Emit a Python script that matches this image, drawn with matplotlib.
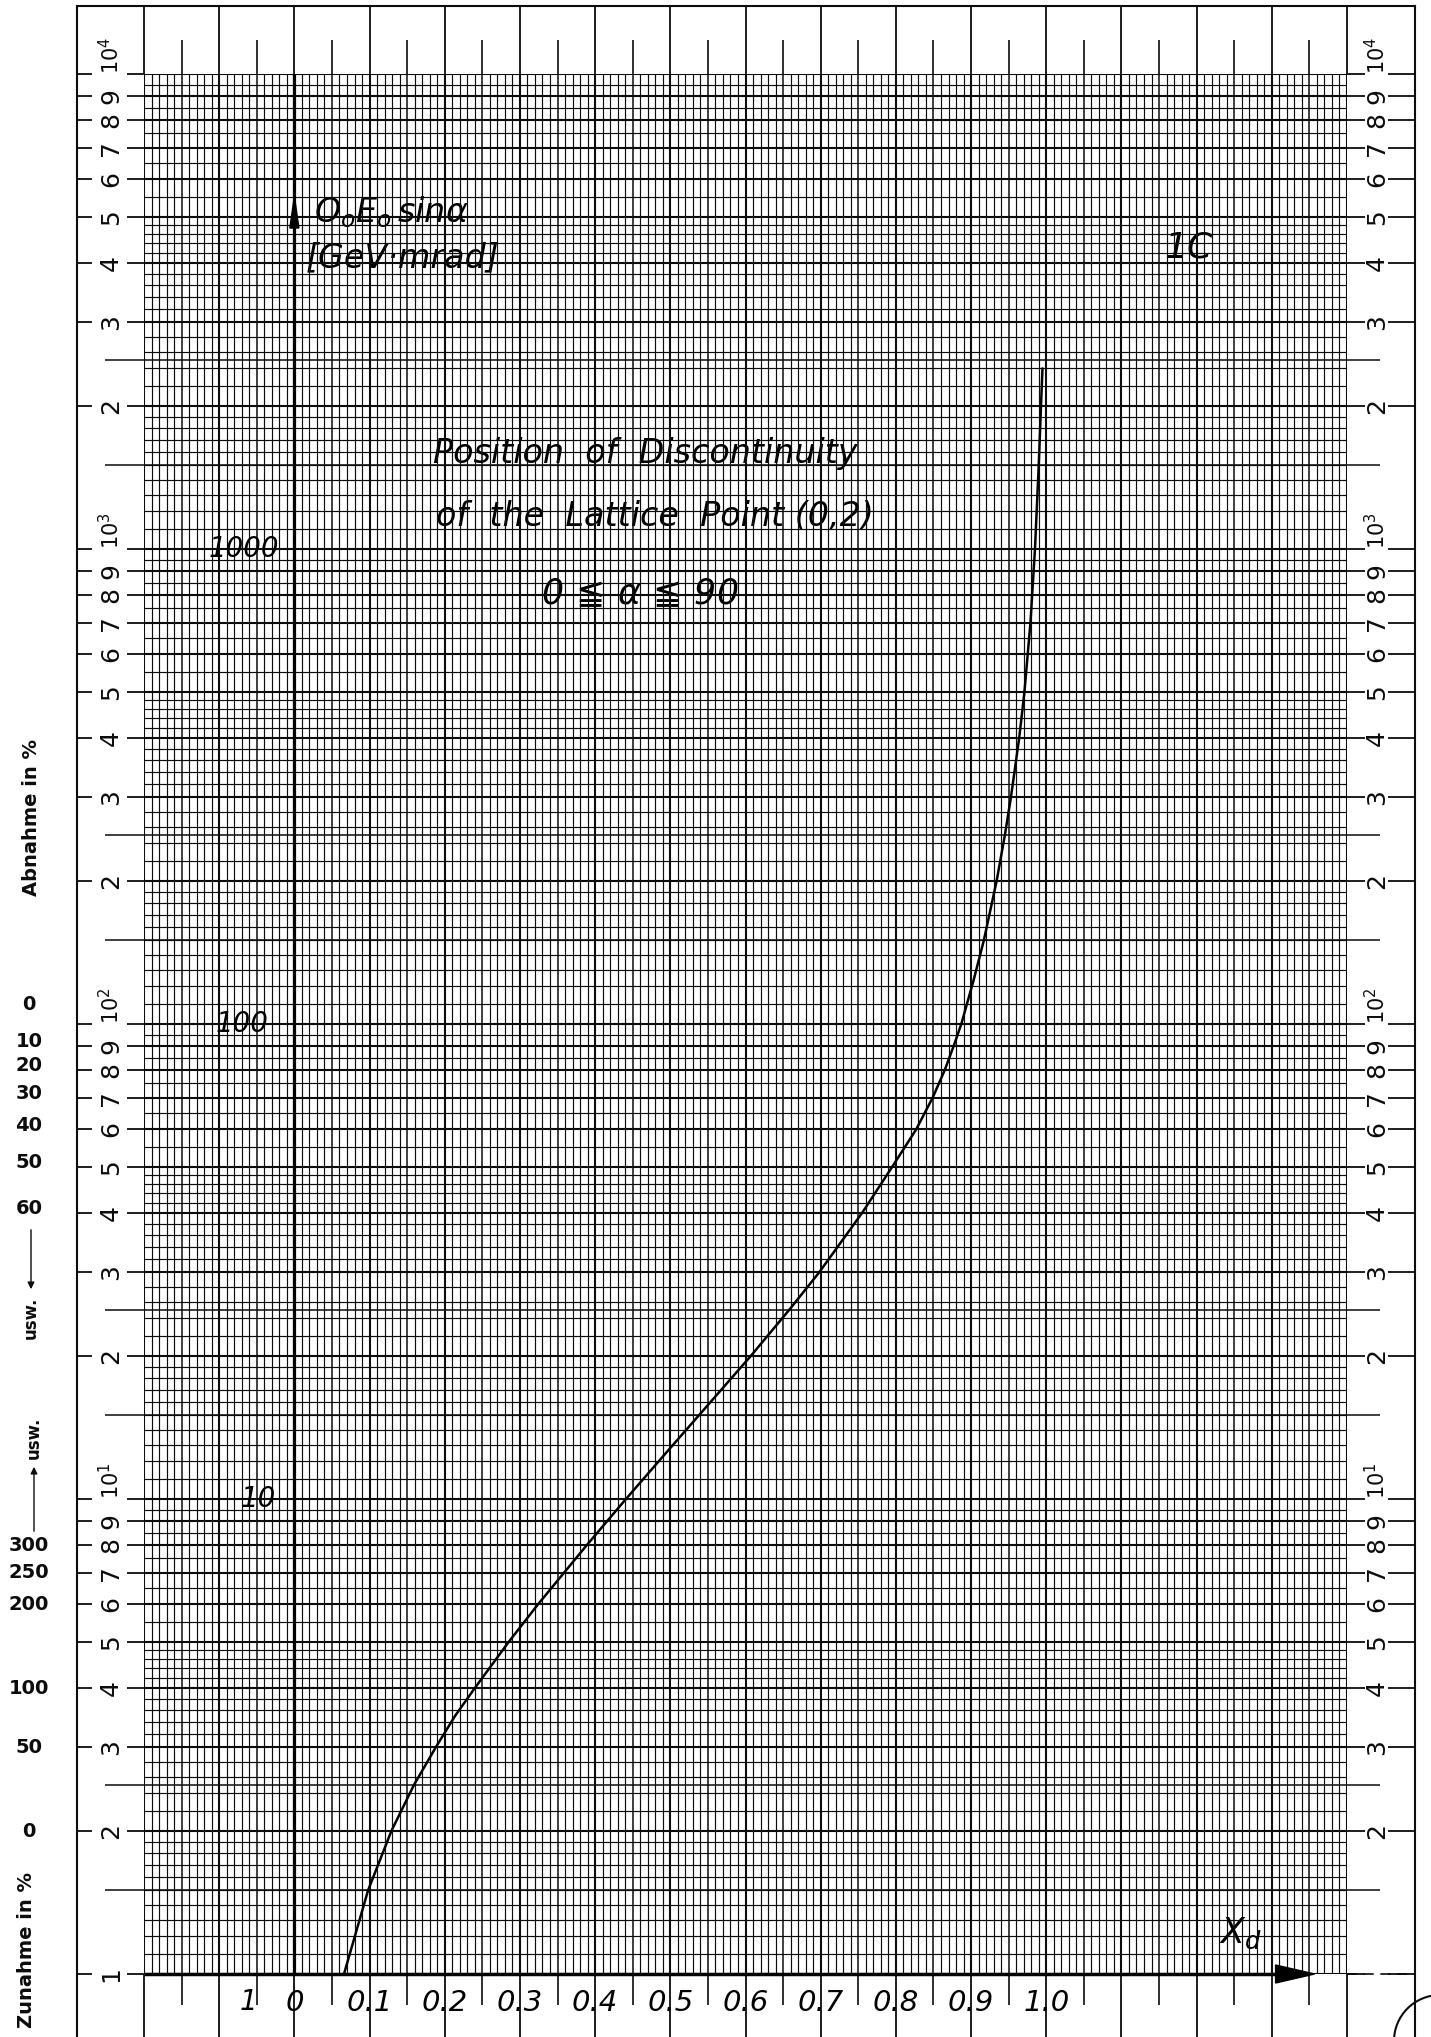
import numpy as np
import matplotlib.pyplot as plt
from matplotlib.patches import Circle

plt.rcParams['font.family'] = ['DejaVu Sans']
plt.rcParams['mathtext.fontset'] = 'dejavusans'

# curve: X_d against Q0 E0 sin(alpha) [GeV mrad]
x_d = [0.066, 0.098, 0.129, 0.159, 0.188, 0.214, 0.240, 0.285, 0.324, 0.389, 0.441,
       0.498, 0.538, 0.607, 0.658, 0.698, 0.755, 0.795, 0.827, 0.849, 0.865,
       0.877, 0.887, 0.903, 0.917, 0.934, 0.945, 0.953, 0.964, 0.971, 0.979, 0.985,
       0.990, 0.993, 0.995]
q_val = [1, 1.5, 2, 2.5, 3, 3.5, 4, 5, 6, 8, 10,
         12.7, 15, 20, 25, 30, 40, 50, 60, 70, 80,
         90, 100, 123, 150, 200, 250, 300, 400, 500, 700, 1000,
         1500, 2000, 2400]

# hand written axis labels
x_ticks = [0, 0.1, 0.2, 0.3, 0.4, 0.5, 0.6, 0.7, 0.8, 0.9, 1.0]
x_labels = ['0', '0.1', '0.2', '0.3', '0.4', '0.5', '0.6', '0.7', '0.8', '0.9', '1.0']
decade_vals = [1000, 100, 10]
decade_texts = ['1000', '100', '10']
decade_xpos = [-0.067, -0.070, -0.048]

# printed percent scales in the left margin
abnahme_vals = [100, 90, 80, 70, 60, 50, 40]
abnahme_labels = ['0', '10', '20', '30', '40', '50', '60']
zunahme_vals = [8, 7, 6, 4, 3, 2]
zunahme_labels = ['300', '250', '200', '100', '50', '0']

W, H = 1431, 2037
L, R, T, B = 144, 1347, 74, 1974

fig = plt.figure(figsize=(W / 100, H / 100), dpi=100)
fig.patch.set_facecolor('white')

# page overlay in pixel units
pg = fig.add_axes([0, 0, 1, 1])
pg.set_xlim(0, W)
pg.set_ylim(H, 0)
pg.axis('off')

ax = fig.add_axes([L / W, (H - B) / H, (R - L) / W, (B - T) / H])
ax.set_xlim(-0.2, 1.4)
ax.set_yscale('log')
ax.set_ylim(1, 1e4)
ax.axis('off')

def fx(px):
    return (px - L) / (R - L)

def fy(py):
    return (B - py) / (B - T)

xt = ax.get_xaxis_transform()
yt = ax.get_yaxis_transform()
ink = '#0c0c0c'

# ---- graph paper grid
xs = np.round(np.arange(-0.2, 1.4001, 0.01), 2)
k = np.round(xs * 100).astype(int)
x_major = xs[k % 10 == 0]
x_half = xs[k % 10 == 5]
x_minor = xs[k % 5 != 0]
ax.vlines(x_minor, 1, 1e4, color=ink, lw=0.85)
ax.vlines(x_half, 1, 1e4, color=ink, lw=1.1)
ax.vlines(x_major, 1, 1e4, color=ink, lw=1.5)

y_minor, y_major, y_mid = [], [], []
for d in range(4):
    base = 10 ** d
    for v in np.concatenate([np.arange(1, 2, 0.1), np.arange(2, 5, 0.2), np.arange(5, 10, 0.5)]):
        v = round(v, 2)
        if abs(v - round(v)) < 1e-6:
            y_major.append(v * base)
        else:
            y_minor.append(v * base)
    y_mid += [1.5 * base, 2.5 * base]
y_major.append(1e4)
ax.hlines(y_minor, -0.2, 1.4, color=ink, lw=0.85)
ax.hlines(y_mid, -0.2, 1.4, color=ink, lw=1.1)
ax.hlines(y_major, -0.2, 1.4, color=ink, lw=1.5)

# hand drawn axes
ax.vlines(0, 1, 1e4, color='black', lw=2.3, zorder=4)
ax.hlines(1, -0.2, 1.31, color='black', lw=2.5, zorder=4, clip_on=False)
ax.fill([1.305, 1.357, 1.305], [fy(1965), fy(1974), fy(1983)], transform=xt,
        color='black', clip_on=False, zorder=5)
ax.plot([1, fx(1415)], [0, 0], transform=ax.transAxes, color=ink, lw=1.2,
        ls=(0, (6, 4)), clip_on=False)
ax.fill([-0.006, 0, 0.006], [fy(228), fy(196), fy(228)], transform=xt,
        color='black', zorder=5)

# ---- top and bottom margins
ax.vlines(x_major, 1, fy(6), transform=xt, color=ink, lw=1.3, clip_on=False)
ax.vlines(x_half, fy(40), 1, transform=xt, color=ink, lw=1.2, clip_on=False)
ax.vlines(x_major, fy(2040), 0, transform=xt, color=ink, lw=1.3, clip_on=False)
ax.vlines(x_half, fy(2005), 0, transform=xt, color=ink, lw=1.2, clip_on=False)

# ---- side scales
tick_vals = [m * 10 ** d for d in range(4) for m in range(1, 10)] + [1e4]
ax.hlines(tick_vals, fx(77), fx(92), transform=yt, color=ink, lw=1.3, clip_on=False)
ax.hlines(tick_vals, fx(127), 0, transform=yt, color=ink, lw=1.3, clip_on=False)
ax.hlines(tick_vals, 1, fx(1365), transform=yt, color=ink, lw=1.3, clip_on=False)
ax.hlines(tick_vals, fx(1388), fx(1415), transform=yt, color=ink, lw=1.3, clip_on=False)
ax.hlines(y_mid, fx(105), 0, transform=yt, color=ink, lw=1.1, clip_on=False)
ax.hlines(y_mid, 1, fx(1380), transform=yt, color=ink, lw=1.1, clip_on=False)

for d in range(4):
    for m in range(2, 10):
        for px in (111, 1377):
            ax.text(fx(px), m * 10 ** d, str(m), transform=yt, rotation=90,
                    ha='center', va='center', fontsize=18, color=ink)
    for px in (111, 1377):
        ax.text(fx(px), 10 ** (d + 1), '10$^{%d}$' % (d + 1), transform=yt,
                rotation=90, rotation_mode='anchor', ha='left', va='center',
                fontsize=15, color=ink)
ax.text(fx(111), 1, '1', transform=yt, rotation=90, ha='center', va='center',
        fontsize=18, color=ink)

# ---- frame
pg.plot([77, 77], [6, H], color=ink, lw=1.5)
pg.plot([77, 1415], [6, 6], color=ink, lw=1.5)
pg.plot([1415, 1415], [6, H], color=ink, lw=1.5)
pg.add_patch(Circle((1440, 2041), 46, fill=False, ec=ink, lw=1.5))

# ---- left margin percent scales
for v, lab in zip(abnahme_vals, abnahme_labels):
    off = 14 if lab == '0' else 3
    ax.annotate(lab, (fx(29), v), xycoords=yt, xytext=(0, off), textcoords='offset points',
                ha='center', va='center', fontsize=14, fontweight='bold', color=ink,
                annotation_clip=False)
for v, lab in zip(zunahme_vals, zunahme_labels):
    ax.text(fx(29), v, lab, transform=yt, ha='center', va='center', fontsize=14,
            fontweight='bold', color=ink)
pg.text(32, 818, 'Abnahme in %', rotation=90, ha='center', va='center',
        fontsize=14, fontweight='bold', color=ink)
pg.text(27, 1950, 'Zunahme in %', rotation=90, ha='center', va='center',
        fontsize=14, fontweight='bold', color=ink)
pg.text(31, 1318, 'usw.', rotation=90, ha='center', va='center', fontsize=12,
        fontweight='bold', color=ink)
pg.annotate('', xy=(31, 1292), xytext=(31, 1227),
            arrowprops=dict(arrowstyle='-|>', color=ink, lw=1, mutation_scale=10))
pg.text(34, 1438, 'usw.', rotation=90, ha='center', va='center', fontsize=12,
        fontweight='bold', color=ink)
pg.annotate('', xy=(34, 1464), xytext=(34, 1534),
            arrowprops=dict(arrowstyle='-|>', color=ink, lw=1, mutation_scale=10))

# ---- curve
ax.plot(x_d, q_val, color='black', lw=1.8, zorder=6, solid_capstyle='round')

# ---- hand lettering
hand = dict(style='italic', color='black', zorder=7)
for x, lab in zip(x_ticks, x_labels):
    ax.text(x, fy(2003), lab, transform=xt, ha='center', va='center', fontsize=21, **hand)
for v, lab, x in zip(decade_vals, decade_texts, decade_xpos):
    ax.text(x, v, lab, ha='center', va='center', fontsize=20, **hand)
ax.text(-0.061, fy(2002), '1', transform=xt, ha='center', va='center', fontsize=20, **hand)

pg.text(314, 212, r'$O_oE_o\,sin\alpha$', ha='left', va='center', fontsize=24, **hand)
pg.text(306, 258, '[GeV·mrad]', ha='left', va='center', fontsize=24, **hand)
pg.text(1188, 248, '1C', ha='center', va='center', fontsize=26, **hand)
pg.text(645, 453, 'Position  of  Discontinuity', ha='center', va='center', fontsize=24, **hand)
pg.text(655, 517, 'of  the  Lattice  Point (0,2)', ha='center', va='center', fontsize=24, **hand)
pg.text(640, 594, r'0$\,\leqq\,\alpha\,\leqq\,$90', ha='center', va='center', fontsize=25, **hand)
pg.text(1240, 1933, r'$X_d$', ha='center', va='center', fontsize=25, **hand)

fig.savefig('out.png', dpi=100, facecolor='white')
